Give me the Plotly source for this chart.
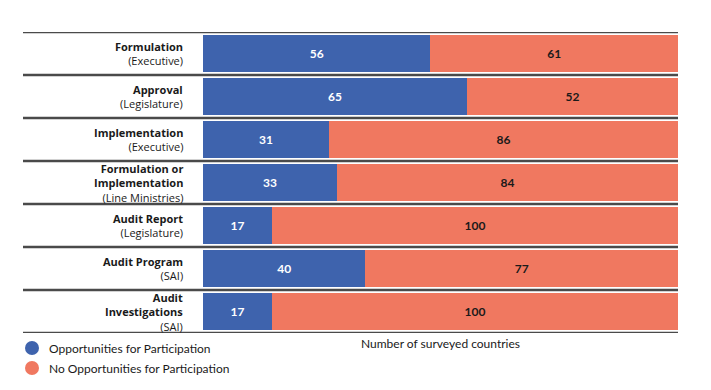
import plotly.graph_objects as go

categories = [
    "<b>Formulation</b><br>(Executive)",
    "<b>Approval</b><br>(Legislature)",
    "<b>Implementation</b><br>(Executive)",
    "<b>Formulation or</b><br><b>Implementation</b><br>(Line Ministries)",
    "<b>Audit Report</b><br>(Legislature)",
    "<b>Audit Program</b><br>(SAI)",
    "<b>Audit</b><br><b>Investigations</b><br>(SAI)",
]
opportunities = [56, 65, 31, 33, 17, 40, 17]
no_opportunities = [61, 52, 86, 84, 100, 77, 100]

series_names = ["Opportunities for Participation", "No Opportunities for Participation"]
x_title = "Number of surveyed countries"
BLUE = "#3e63ad"
ORANGE = "#f07860"
TXT = "#1a1a1a"
FONT = "Lato"
LABEL_FONT = "Open Sans"

# page body has an 8px margin; figure coords = screen coords - 8
W, H = 703, 382
L, R, T, B = 195, 33, 24, 57
PW, PH = W - L - R, H - T - B


def px(s):
    return (s - 8 - L) / PW


def py(s):
    return (H - B - (s - 8)) / PH


ypos = list(range(len(categories)))

fig = go.Figure()
fig.add_trace(go.Bar(
    y=ypos, x=opportunities, orientation="h", marker=dict(color=BLUE, line=dict(width=0)),
    text=opportunities, texttemplate="<b>%{x}</b>", textposition="inside",
    insidetextanchor="middle", textfont=dict(color="white", size=12, family=FONT),
    name=series_names[0], hoverinfo="x",
))
fig.add_trace(go.Bar(
    y=ypos, x=no_opportunities, orientation="h", marker=dict(color=ORANGE, line=dict(width=0)),
    text=no_opportunities, texttemplate="<b>%{x}</b>", textposition="inside",
    insidetextanchor="middle", textfont=dict(color=TXT, size=12, family=FONT),
    name=series_names[1], hoverinfo="x",
))

# separator lines
for i in range(len(categories) + 1):
    fig.add_shape(type="line", xref="paper", yref="y", x0=px(23), x1=1,
                  y0=i - 0.5, y1=i - 0.5, line=dict(color="#4a4a4a", width=2.5))

# category labels
for i, cat in enumerate(categories):
    fig.add_annotation(text=cat, xref="paper", yref="y", x=px(185), y=i,
                       xanchor="right", yanchor="middle", align="right", showarrow=False,
                       font=dict(size=11, family=LABEL_FONT, color=TXT))

# x-axis title
fig.add_annotation(text=x_title, xref="paper", yref="paper", x=px(440), y=py(343),
                   xanchor="center", yanchor="middle", showarrow=False,
                   font=dict(size=12, family=FONT, color=TXT))

# manual legend with circles
for k, (name, col) in enumerate(zip(series_names, [BLUE, ORANGE])):
    cy = 348 + 20 * k
    r = 7
    fig.add_shape(type="circle", xref="paper", yref="paper",
                  x0=px(32 - r), x1=px(32 + r), y0=py(cy + r), y1=py(cy - r),
                  fillcolor=col, line=dict(width=0))
    fig.add_annotation(text=name, xref="paper", yref="paper", x=px(47), y=py(cy),
                       xanchor="left", yanchor="middle", showarrow=False,
                       font=dict(size=12, family=FONT, color=TXT))

fig.update_layout(
    width=W, height=H,
    margin=dict(l=L, r=R, t=T, b=B),
    barmode="stack", bargap=0.12,
    plot_bgcolor="white", paper_bgcolor="white", showlegend=False,
    font=dict(family=FONT, size=12, color=TXT),
    xaxis=dict(range=[0, 117], showgrid=False, showticklabels=False, zeroline=False,
               ticks="", automargin=False),
    yaxis=dict(range=[len(categories) - 0.5, -0.5], autorange=False, showgrid=False,
               zeroline=False, automargin=False, showticklabels=False, ticks=""),
)

fig.write_html("out.html")
